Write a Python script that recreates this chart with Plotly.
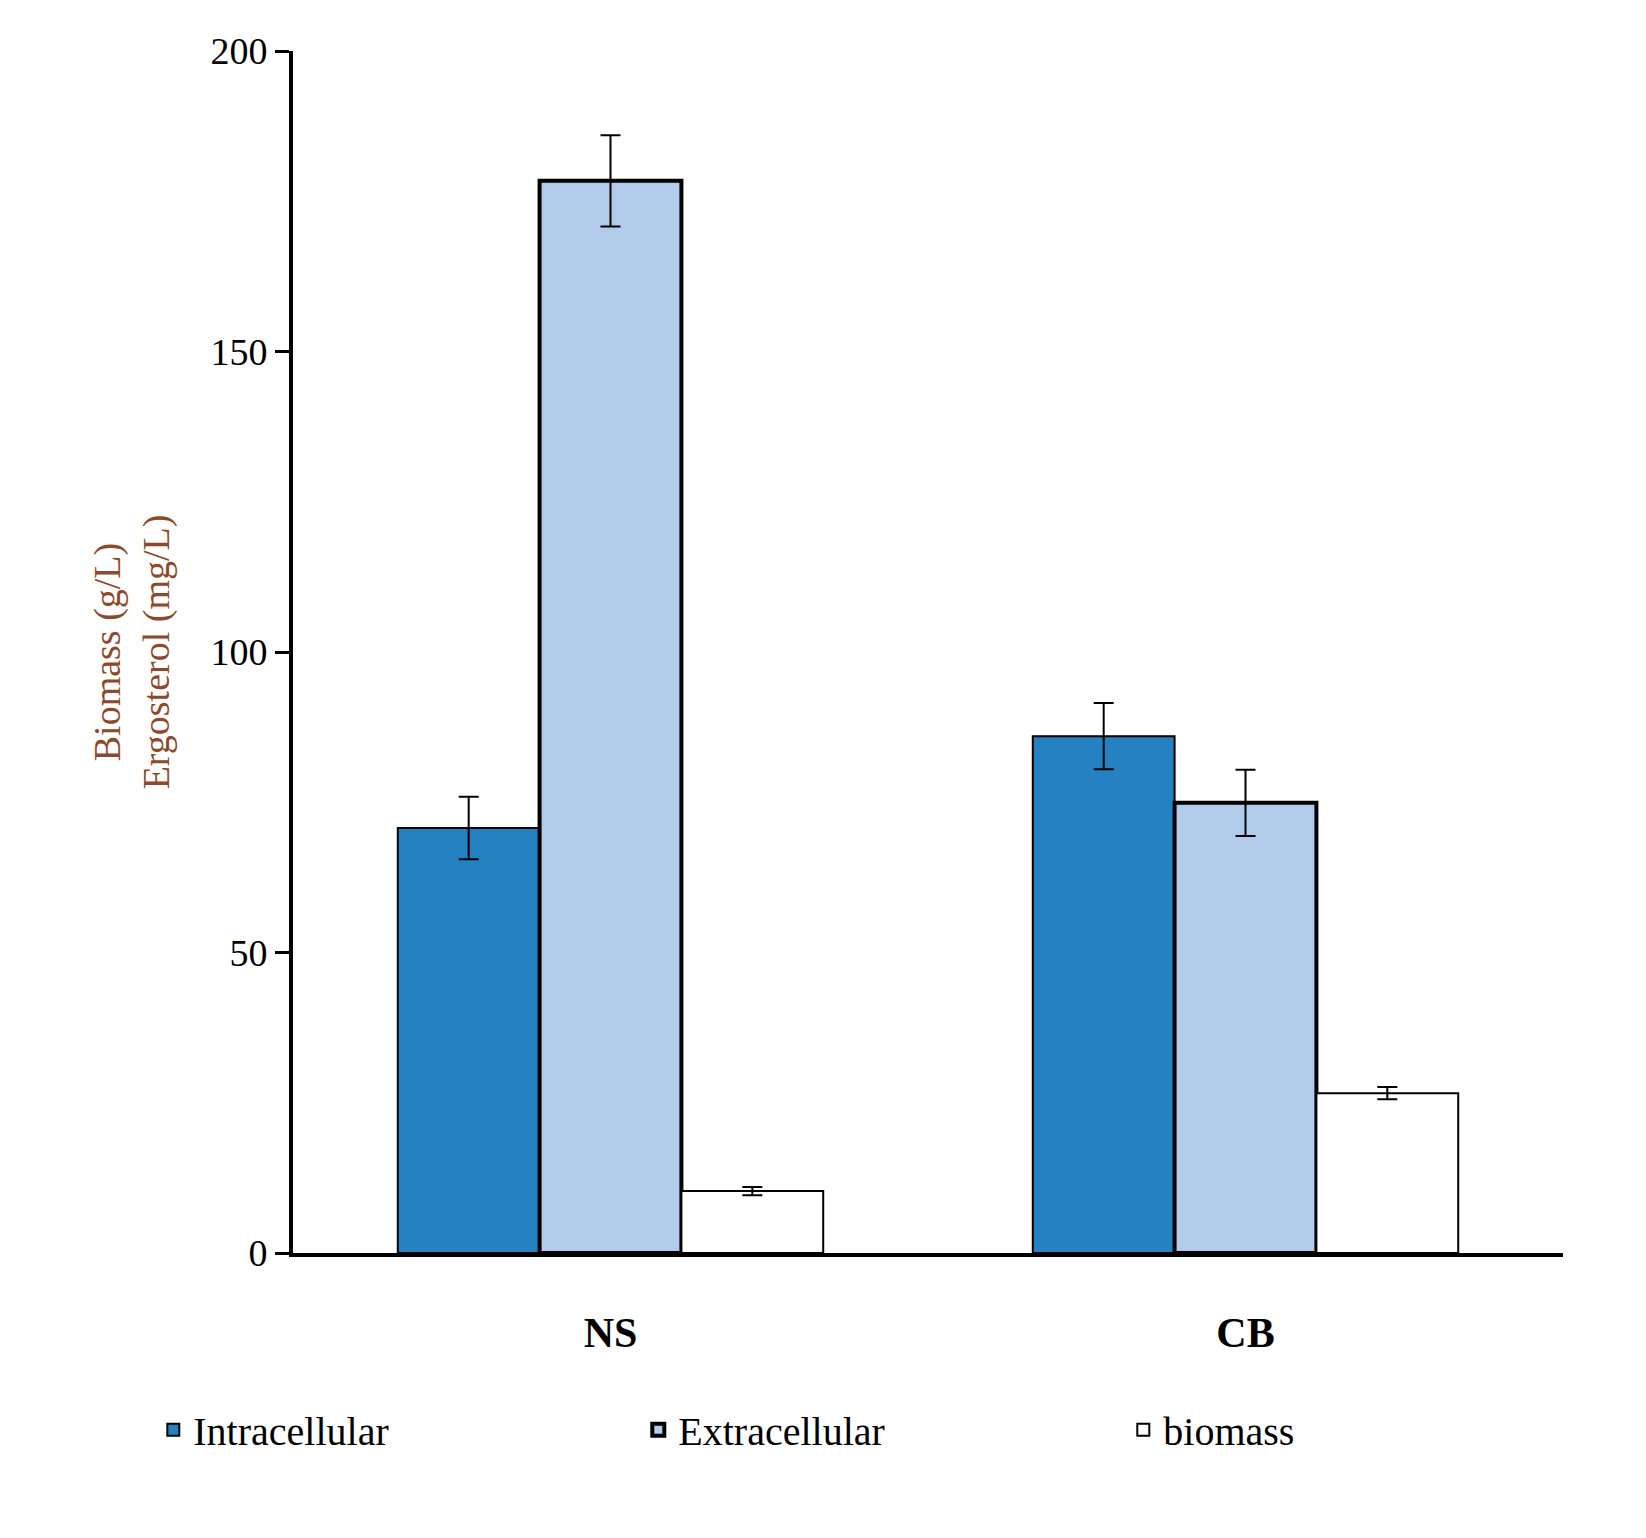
import plotly.graph_objects as go

categories = ["NS", "CB"]
intracellular = [70.7, 86.0]
intracellular_err = [5.2, 5.5]
extracellular = [178.4, 74.9]
extracellular_err = [7.6, 5.5]
biomass = [10.3, 26.6]
biomass_err = [0.7, 1.0]

font = "Liberation Serif"
fig = go.Figure()
fig.add_bar(name="Intracellular", x=categories, y=intracellular,
            marker=dict(color="#2581c1", line=dict(color="black", width=2)),
            error_y=dict(type="data", array=intracellular_err, color="black", thickness=2, width=10))
fig.add_bar(name="Extracellular", x=categories, y=extracellular,
            marker=dict(color="#b3cbeb", line=dict(color="black", width=4)),
            error_y=dict(type="data", array=extracellular_err, color="black", thickness=2, width=10))
fig.add_bar(name="biomass", x=categories, y=biomass,
            marker=dict(color="white", line=dict(color="black", width=2)),
            error_y=dict(type="data", array=biomass_err, color="black", thickness=2, width=10))

fig.update_layout(
    width=1646, height=1538, paper_bgcolor="white", plot_bgcolor="white",
    margin=dict(l=285, r=91, t=43, b=293),
    barmode="group", bargap=0.33, bargroupgap=0,
    font=dict(family=font, size=34, color="black"),
    legend=dict(orientation="h", x=-0.11, xanchor="left", y=-0.12, yanchor="top",
                font=dict(size=40), itemwidth=30, entrywidth=440),
    xaxis=dict(showline=True, linecolor="black", linewidth=4, ticks="",
               tickfont=dict(family=font, size=42, color="black", weight="bold"),
               ticklabelstandoff=40),
    yaxis=dict(range=[0, 200], tickvals=[0, 50, 100, 150, 200], showline=True,
               linecolor="black", linewidth=4, ticks="outside", ticklen=14,
               tickwidth=3, tickcolor="black", showgrid=False, zeroline=False,
               tickfont=dict(family=font, size=38, color="black"),
               title=dict(text="Biomass (g/L)<br>Ergosterol (mg/L)", standoff=30,
                          font=dict(family=font, size=38, color="#8b4a2b"))),
)
fig.write_html("out.html")
